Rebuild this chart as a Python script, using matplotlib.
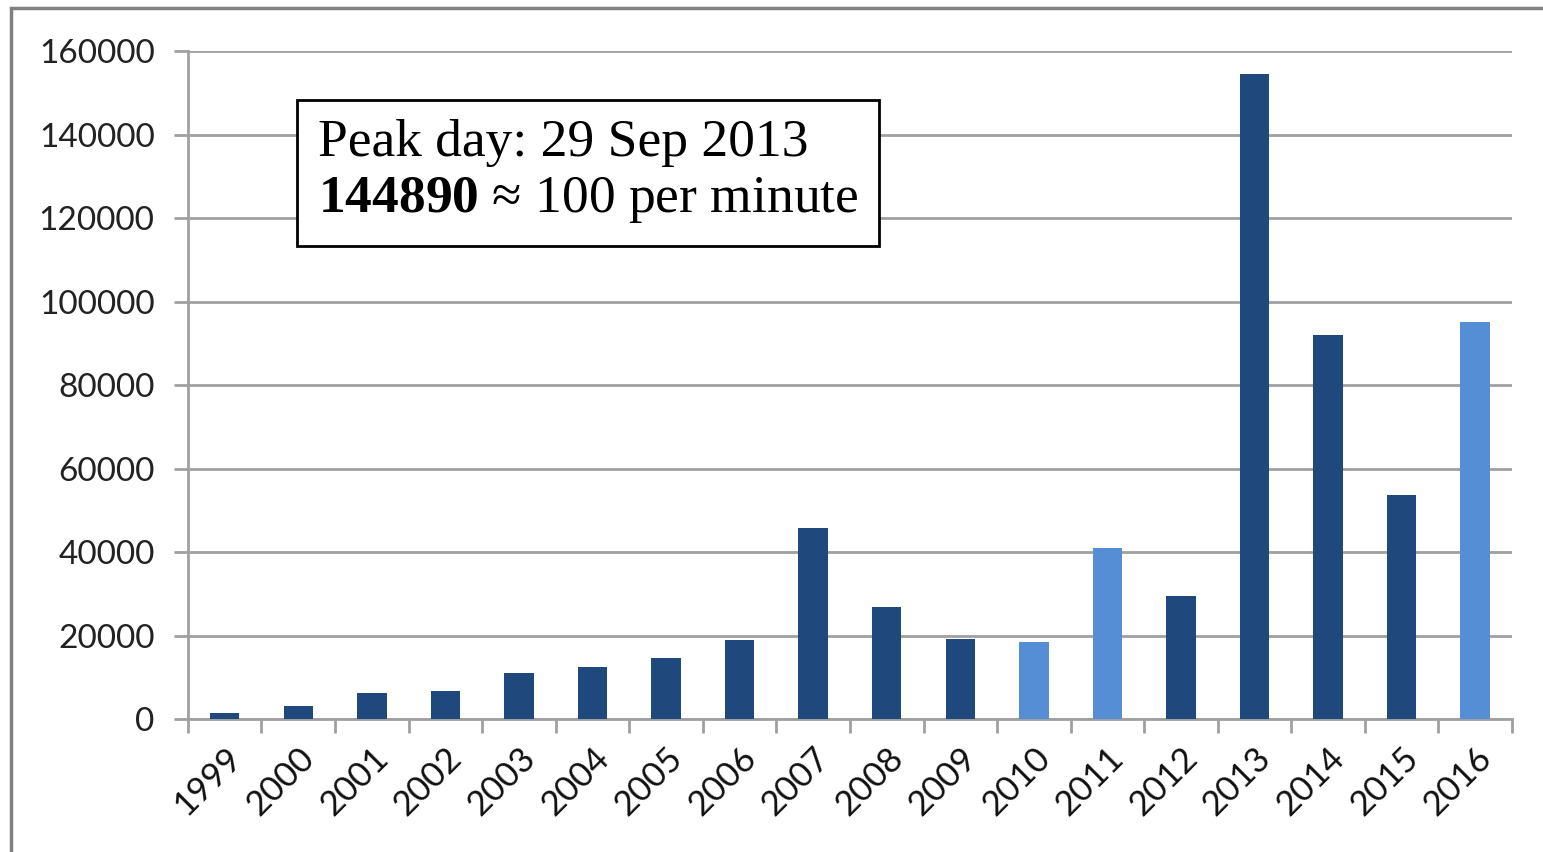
import matplotlib.pyplot as plt
from matplotlib.patches import Rectangle

plt.rcParams['mathtext.fontset'] = 'custom'
plt.rcParams['mathtext.rm'] = 'Liberation Serif'
plt.rcParams['mathtext.bf'] = 'Liberation Serif:bold'

# Data
years = ['1999', '2000', '2001', '2002', '2003', '2004', '2005', '2006', '2007',
         '2008', '2009', '2010', '2011', '2012', '2013', '2014', '2015', '2016']
counts = [1400, 3100, 6200, 6700, 11000, 12400, 14600, 18900, 45700,
          26800, 19200, 18400, 41100, 29400, 154500, 91900, 53600, 95200]
highlight = ['2010', '2011', '2016']

dark = '#1F487C'
light = '#558ED5'
grey = '#A0A0A0'

fig = plt.figure(figsize=(15.43, 8.52), dpi=100)
ax = fig.add_axes([0.1218, 0.156, 0.8581, 0.784])

colors = [light if y in highlight else dark for y in years]
x = list(range(len(years)))
ax.bar(x, counts, width=0.4, color=colors, zorder=3)

ax.set_xlim(-0.5, len(years) - 0.5)
ax.set_ylim(0, 160000)
ax.set_yticks(range(0, 160001, 20000))
ax.set_yticklabels([str(v) for v in range(0, 160001, 20000)], family='Lato', fontsize=24, color='#222222')
ax.yaxis.grid(True, color=grey, linewidth=2, zorder=0)

# x ticks sit at category boundaries, labels at centres
ax.set_xticks([i - 0.5 for i in range(len(years) + 1)])
ax.set_xticklabels([])
ax.set_xticks(x, minor=True)
ax.set_xticklabels(years, minor=True, rotation=45, ha='right', rotation_mode='anchor',
                   family='Lato', fontsize=25, color='#111111')
ax.tick_params(axis='x', which='minor', length=0, pad=16)
ax.tick_params(axis='x', which='major', length=10, width=2, color=grey, direction='out')
ax.tick_params(axis='y', length=10, width=2, color=grey, pad=14)

for s in ['top', 'right']:
    ax.spines[s].set_visible(False)
for s in ['left', 'bottom']:
    ax.spines[s].set_color(grey)
    ax.spines[s].set_linewidth(2)

ax.text(0.098, 0.819, 'Peak day: 29 Sep 2013\n' + r'$\mathbf{144890}$' + ' \u2248 100 per minute',
        transform=ax.transAxes, family='Liberation Serif', fontsize=38.5, va='center', ha='left',
        linespacing=1.2, zorder=5,
        bbox=dict(boxstyle='square,pad=0.39', facecolor='white', edgecolor='black', linewidth=2))

# outer frame (only top and left are visible in the picture)
fig.patches.append(Rectangle((11 / 1543, -0.1), 1.2, 1 - 8 / 852 + 0.1, transform=fig.transFigure,
                             fill=False, edgecolor='#808080', linewidth=2.5))

fig.savefig('out.png', dpi=100)
